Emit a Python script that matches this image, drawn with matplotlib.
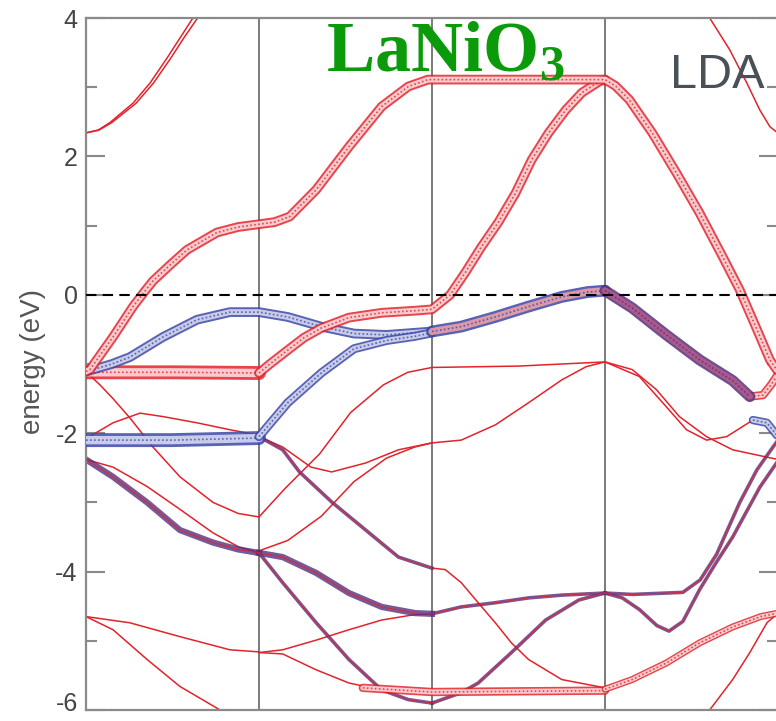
import matplotlib
matplotlib.use("Agg")
import matplotlib.pyplot as plt

plt.rcParams['axes.unicode_minus'] = False
plt.rcParams['font.family'] = ['Liberation Sans', 'DejaVu Sans']
plt.rcParams['mathtext.fontset'] = 'custom'
plt.rcParams['mathtext.bf'] = 'Liberation Serif:bold'
plt.rcParams['mathtext.rm'] = 'Liberation Serif:bold'

# ---------------- band data (k along path, energy in eV) ----------------
# path: G (0) - X (1) - M (2) - R (3) - G (4)
sym_k = [1, 2, 3]
y_ticks = [-6, -4, -2, 0, 2, 4]
y_minor = [-5, -3, -1, 1, 3]

# thin top bands
a1_k = [0, 0.07, 0.139, 0.272, 0.37, 0.468, 0.543, 0.618, 0.68]
a1_e = [2.34, 2.38, 2.49, 2.77, 3.06, 3.42, 3.71, 4.0, 4.25]
a2_k = [0, 0.075, 0.15, 0.29, 0.39, 0.49, 0.565, 0.645, 0.705]
a2_e = [2.34, 2.38, 2.49, 2.77, 3.06, 3.42, 3.71, 4.0, 4.25]
tr_k = [3.58, 3.605, 3.721, 3.82, 3.895, 3.953, 3.988, 4.0]
tr_e = [4.2, 4.0, 3.54, 3.06, 2.67, 2.43, 2.36, 2.34]

# fat eg bands (red)
eg_up_k = [0, 0.023, 0.156, 0.272, 0.33, 0.387, 0.49, 0.584, 0.757, 0.88, 1.0,
           1.09, 1.177, 1.331, 1.52, 1.709, 1.863, 1.977, 2.0, 2.5, 3.0,
           3.06, 3.14, 3.273, 3.413, 3.547, 3.68, 3.779, 3.878, 3.953, 4.0]
eg_up_e = [-1.11, -1.08, -0.61, -0.17, 0.02, 0.2, 0.44, 0.65, 0.9, 0.98, 1.02,
           1.05, 1.13, 1.52, 2.14, 2.72, 3.01, 3.11, 3.11, 3.11, 3.11,
           3.02, 2.82, 2.34, 1.76, 1.18, 0.55, 0.07, -0.5, -0.94, -1.11]
eg_flat_k = [0, 0.5, 1.0]
eg_flat_e = [-1.12, -1.12, -1.13]
eg_lo_k = [1.0, 1.063, 1.166, 1.26, 1.36, 1.52, 1.709, 1.9, 2.0, 2.105, 2.192,
           2.285, 2.384, 2.483, 2.576, 2.674, 2.773, 2.866, 2.965, 3.0]
eg_lo_e = [-1.13, -1.0, -0.8, -0.62, -0.48, -0.33, -0.26, -0.23, -0.21, 0.0, 0.32,
           0.69, 1.05, 1.47, 1.95, 2.34, 2.67, 2.92, 3.08, 3.11]
loop_k = [3.837, 3.913, 3.96, 4.0]
loop_e = [-1.47, -1.45, -1.3, -1.15]

# fat t2g bands (blue)
t2g_c_k = [0, 0.04, 0.15, 0.254, 0.445, 0.642, 0.832, 1.0, 1.166, 1.36, 1.549, 1.737, 2.0]
t2g_c_e = [-1.11, -1.08, -1.0, -0.9, -0.61, -0.36, -0.25, -0.25, -0.32, -0.46, -0.56, -0.58, -0.53]
t2g_e_k = [1.0, 1.166, 1.36, 1.549, 1.737, 1.9, 2.0]
t2g_e_e = [-2.05, -1.56, -1.13, -0.78, -0.66, -0.6, -0.55]
t2g_mr_k = [2.0, 2.169, 2.366, 2.558, 2.75, 2.9, 3.0]
t2g_mr_e = [-0.53, -0.46, -0.32, -0.17, -0.03, 0.04, 0.06]
t2g_rg_k = [3.0, 3.157, 3.355, 3.547, 3.738, 3.837]
t2g_rg_e = [0.06, -0.19, -0.58, -0.94, -1.24, -1.47]
t2g_flat_k = [0, 0.5, 1.0]
t2g_flat_e = [-2.1, -2.1, -2.07]

# thin bands G-X
gx1_k = [0, 0.156, 0.312, 0.445, 0.642, 0.832, 1.0]
gx1_e = [-2.08, -1.85, -1.71, -1.76, -1.85, -1.95, -2.03]
gx2_k = [0, 0.08, 0.156, 0.254, 0.387, 0.543, 0.734, 0.88, 1.0]
gx2_e = [-1.11, -1.3, -1.5, -1.78, -2.2, -2.63, -3.0, -3.16, -3.21]
gx3_k = [0, 0.156, 0.353, 0.543, 0.734, 0.88, 1.0]
gx3_e = [-2.38, -2.49, -2.77, -3.1, -3.44, -3.64, -3.73]
gx4_k = [0, 0.156, 0.353, 0.543, 0.734, 0.88, 1.0]
gx4_e = [-2.38, -2.63, -3.0, -3.4, -3.58, -3.68, -3.73]
gx5_k = [0, 0.254, 0.543, 0.832, 1.0]
gx5_e = [-4.65, -4.74, -4.94, -5.13, -5.16]
gx6_k = [0, 0.156, 0.353, 0.543, 0.775, 1.0]
gx6_e = [-4.65, -4.84, -5.27, -5.66, -6.0, -6.3]

# thin bands X-M
xm1_k = [1.0, 1.15, 1.35, 1.53, 1.72, 1.86, 2.0]
xm1_e = [-3.21, -2.8, -2.3, -1.7, -1.3, -1.12, -1.05]
xm2_k = [1.0, 1.137, 1.3, 1.42, 1.617, 1.806, 2.0]
xm2_e = [-2.05, -2.2, -2.49, -2.56, -2.43, -2.24, -2.14]
xm3_k = [1.0, 1.166, 1.36, 1.549, 1.737, 1.9, 2.0]
xm3_e = [-3.7, -3.55, -3.2, -2.7, -2.36, -2.2, -2.14]
xm4_k = [1.0, 1.137, 1.234, 1.423, 1.617, 1.806, 2.0]
xm4_e = [-2.05, -2.24, -2.56, -3.0, -3.4, -3.79, -3.95]
xm5_k = [1.0, 1.137, 1.331, 1.52, 1.709, 1.903, 2.0]
xm5_e = [-3.73, -3.79, -4.02, -4.31, -4.51, -4.6, -4.61]
xm6_k = [1.0, 1.137, 1.331, 1.52, 1.709, 1.903, 2.0]
xm6_e = [-5.17, -5.13, -4.99, -4.84, -4.7, -4.62, -4.61]
xm7_k = [1.0, 1.137, 1.331, 1.52, 1.709, 2.0]
xm7_e = [-5.17, -5.19, -5.42, -5.61, -5.71, -5.74]
xm8_k = [1.0, 1.137, 1.331, 1.52, 1.709, 1.863, 2.0]
xm8_e = [-3.73, -4.16, -4.74, -5.27, -5.71, -5.85, -5.9]

# thin bands M-R
mr1_k = [2.0, 2.5, 3.0]
mr1_e = [-1.05, -1.03, -0.97]
mr2_k = [2.0, 2.169, 2.366, 2.558, 2.75, 2.89, 3.0]
mr2_e = [-2.14, -2.1, -1.88, -1.56, -1.23, -1.04, -0.97]
mr3_k = [2.0, 2.076, 2.169, 2.267, 2.366, 2.459, 2.558, 2.75, 3.0]
mr3_e = [-3.95, -3.97, -4.16, -4.45, -4.74, -5.03, -5.27, -5.56, -5.68]
mr4_k = [2.0, 2.169, 2.366, 2.558, 2.75, 3.0]
mr4_e = [-4.61, -4.51, -4.45, -4.38, -4.34, -4.31]
mr5_k = [2.0, 2.169, 2.267, 2.459, 2.657, 2.849, 3.0]
mr5_e = [-5.9, -5.75, -5.61, -5.17, -4.7, -4.41, -4.31]
mr6_k = [1.6, 2.0, 3.0]
mr6_e = [-5.68, -5.74, -5.72]

# thin bands R-G
rg1_k = [3.0, 3.198, 3.355, 3.471, 3.587, 3.703, 3.855, 3.936, 4.0]
rg1_e = [-0.97, -1.18, -1.62, -1.95, -2.1, -2.05, -1.81, -1.85, -2.05]
rg2_k = [3.0, 3.157, 3.297, 3.43, 3.587, 3.738, 4.0]
rg2_e = [-0.97, -1.08, -1.37, -1.76, -2.05, -2.24, -2.38]
rg3_k = [3.0, 3.157, 3.355, 3.45, 3.55, 3.645, 3.779, 3.878, 3.971, 4.0]
rg3_e = [-4.31, -4.33, -4.31, -4.3, -4.12, -3.75, -3.0, -2.53, -2.2, -2.1]
rg4_k = [3.0, 3.1, 3.2, 3.3, 3.37, 3.45, 3.547, 3.64, 3.738, 3.895, 4.0]
rg4_e = [-4.31, -4.38, -4.55, -4.78, -4.86, -4.72, -4.26, -3.88, -3.5, -2.78, -2.4]
rg5_k = [3.0, 3.157, 3.355, 3.547, 3.738, 3.9, 4.0]
rg5_e = [-5.7, -5.56, -5.32, -5.03, -4.8, -4.65, -4.6]
rg6_k = [3.5, 3.605, 3.738, 3.837, 3.936, 4.0]
rg6_e = [-6.4, -6.0, -5.56, -5.17, -4.74, -4.6]

RED = '#e3232b'
BLUE = '#3b48a6'
PURPLE = '#55307e'
RED_FILL = '#fbdcde'
BLUE_FILL = '#d6d8f0'

fig = plt.figure(figsize=(7.76, 7.21), dpi=100)
ax = fig.add_axes([86 / 776, 11 / 721, 692 / 776, 692 / 721])


def thin(k, e, col=RED, lw=1.1):
    ax.plot(k, e, color=col, lw=lw, zorder=2, solid_joinstyle='round')


def fat(k, e, w, col, fill, z=3):
    kw = dict(solid_joinstyle='round', solid_capstyle='round', zorder=z)
    ax.plot(k, e, color=col, lw=w, alpha=0.85, **kw)
    ax.plot(k, e, color=fill, lw=w * 0.6, alpha=0.9, **kw)
    ax.plot(k, e, color=col, lw=1.2, ls=(0, (1.0, 1.4)), alpha=0.8, zorder=z)


def mid(k, e, w=3.0):
    # medium purple bands with red core
    ax.plot(k, e, color=PURPLE, lw=w, alpha=0.8, zorder=2.5, solid_joinstyle='round')
    ax.plot(k, e, color=RED, lw=0.8, alpha=0.8, zorder=2.6)


for kk, ee in [(a1_k, a1_e), (a2_k, a2_e), (tr_k, tr_e),
               (gx1_k, gx1_e), (gx2_k, gx2_e), (gx3_k, gx3_e), (gx5_k, gx5_e), (gx6_k, gx6_e),
               (xm1_k, xm1_e), (xm2_k, xm2_e), (xm3_k, xm3_e), (xm6_k, xm6_e), (xm7_k, xm7_e),
               (mr1_k, mr1_e), (mr2_k, mr2_e), (mr3_k, mr3_e),
               (rg1_k, rg1_e), (rg2_k, rg2_e), (rg6_k, rg6_e)]:
    thin(kk, ee)

for kk, ee in [(gx4_k, gx4_e), (xm5_k, xm5_e)]:
    mid(kk, ee, 4.5)
for kk, ee in [(xm4_k, xm4_e), (xm8_k, xm8_e), (mr4_k, mr4_e), (mr5_k, mr5_e),
               (rg3_k, rg3_e), (rg4_k, rg4_e)]:
    mid(kk, ee, 2.6)

# fat bands
fat(mr6_k, mr6_e, 6, RED, RED_FILL)
fat(rg5_k, rg5_e, 5, RED, RED_FILL)
fat(t2g_flat_k, t2g_flat_e, 10, BLUE, BLUE_FILL)
fat(eg_flat_k, eg_flat_e, 10, RED, RED_FILL)
fat(t2g_c_k, t2g_c_e, 7, BLUE, BLUE_FILL)
fat(t2g_e_k, t2g_e_e, 6.5, BLUE, BLUE_FILL)
fat(eg_lo_k, eg_lo_e, 7, RED, RED_FILL, z=3.2)
fat(t2g_mr_k, t2g_mr_e, 8.5, BLUE, '#eba0a6', z=3.3)
fat(t2g_rg_k, t2g_rg_e, 8, PURPLE, '#b25a8a', z=3.3)
fat(loop_k, loop_e, 6, RED, RED_FILL)
fat(rg1_k[-3:], rg1_e[-3:], 6, BLUE, BLUE_FILL)
fat(eg_up_k, eg_up_e, 7, RED, RED_FILL, z=3.4)

# Fermi level and high-symmetry lines
ax.axhline(0, color='black', lw=1.5, ls=(0, (5, 3)), zorder=4)
for s in sym_k:
    ax.axvline(s, color='#707070', lw=1.3, zorder=1)

ax.set_xlim(0, 4)
ax.set_ylim(-6, 4)
ax.set_xticks([])
ax.set_yticks(y_ticks)
ax.set_yticklabels([''] + [str(v) for v in y_ticks[1:]])
ax.set_yticks(y_minor, minor=True)
ax.tick_params(axis='y', which='major', direction='in', length=14, width=1.5,
               color='#8a8a8a', left=True, right=True, labelsize=18,
               labelcolor='#444444', pad=6)
ax.tick_params(axis='y', which='minor', direction='in', length=8, width=1.5,
               color='#8a8a8a', left=True, right=True)
for sp in ax.spines.values():
    sp.set_color('#8a8a8a')
    sp.set_linewidth(1.6)

# bottom label nudged up so it stays inside the picture
ax.annotate(str(y_ticks[0]), xy=(0, y_ticks[0]), xycoords=('axes fraction', 'data'),
            xytext=(-6, 4), textcoords='offset points', ha='right', va='center',
            fontsize=18, color='#444444', annotation_clip=False)

ax.set_ylabel('energy (eV)', fontsize=20, color='#555555')
ax.yaxis.set_label_coords(-0.058, 0.503)

ax.text(0.519, 0.922, r'$\mathbf{LaNiO_3}$', transform=ax.transAxes,
        ha='center', va='baseline', fontsize=52, color='#0a9a0a', zorder=6)
ax.text(0.844, 0.899, 'LDA', transform=ax.transAxes, ha='left', va='baseline',
        fontsize=35, color='#4a5058', zorder=6)

fig.savefig('out.png', dpi=100)
